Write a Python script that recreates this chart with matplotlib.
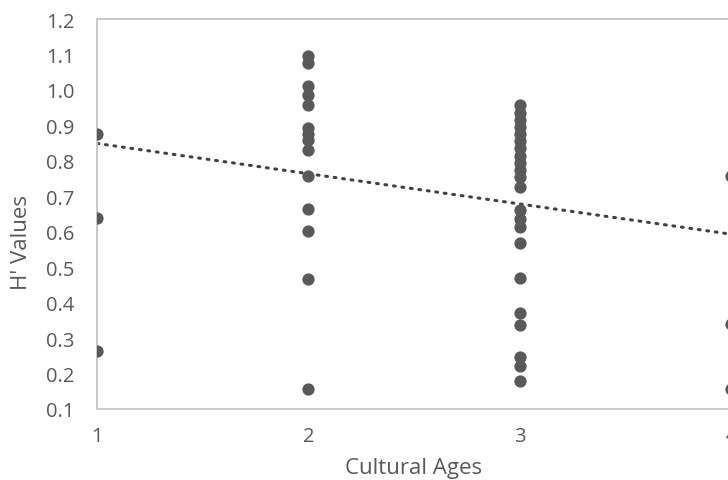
import numpy as np
import matplotlib

matplotlib.use("Agg")
import matplotlib.pyplot as plt  # noqa: E402

# H' values, grouped by cultural age
age_1 = [0.875, 0.638, 0.263]
age_2 = [1.097, 1.075, 1.012, 0.985, 0.957, 0.892, 0.875, 0.86, 0.83, 0.757,
         0.665, 0.602, 0.467, 0.157]
age_3 = [0.957, 0.935, 0.915, 0.895, 0.875, 0.855, 0.835, 0.815, 0.795, 0.775,
         0.755, 0.725, 0.66, 0.635, 0.612, 0.568, 0.47, 0.37, 0.337, 0.247,
         0.222, 0.18]
age_4 = [0.757, 0.34, 0.157]

# linear trendline as drawn in the reference (value at age 1 and at age 4)
trend_x = [1, 4]
trend_y = [0.849, 0.593]

x_ticks = [1, 2, 3, 4]
y_ticks = [0.1, 0.2, 0.3, 0.4, 0.5, 0.6, 0.7, 0.8, 0.9, 1.0, 1.1, 1.2]

groups = [age_1, age_2, age_3, age_4]
xs = np.concatenate([[age] * len(vals) for age, vals in zip(x_ticks, groups)])
ys = np.concatenate(groups)

plt.rcParams["font.family"] = ["Open Sans", "DejaVu Sans"]
grey_text = "#595959"
mark = "#595959"

fig = plt.figure(figsize=(7.28, 4.81), dpi=100)
ax = fig.add_axes([97 / 728, 71 / 481, 634 / 728, 390 / 481])

ax.scatter(xs, ys, s=78, color=mark, zorder=3, linewidths=0)
ax.plot(trend_x, trend_y, linestyle=(0, (0.6, 2.2)), linewidth=2.2,
        color="#404040", dash_capstyle="round", zorder=2)

ax.set_xlim(1, 4)
ax.set_ylim(0.1, 1.2)
ax.set_xticks(x_ticks)
ax.set_yticks(y_ticks)
ax.set_yticklabels([f"{v:.1f}" for v in y_ticks])
ax.tick_params(length=0, labelsize=14.5, colors=grey_text)
ax.tick_params(axis="x", pad=12)
ax.tick_params(axis="y", pad=16)
for sp in ax.spines.values():
    sp.set_color("#c8c8c8")
    sp.set_linewidth(1.4)

ax.set_xlabel("Cultural Ages", fontsize=16, color=grey_text)
ax.xaxis.label.set_verticalalignment("center")
ax.xaxis.set_label_coords(0.5, -59 / 390)
ax.set_ylabel("H' Values", fontsize=16, color=grey_text)
ax.yaxis.label.set_verticalalignment("center")
ax.yaxis.set_label_coords(-75 / 634, 167 / 390)

fig.savefig("out.png", dpi=100)
